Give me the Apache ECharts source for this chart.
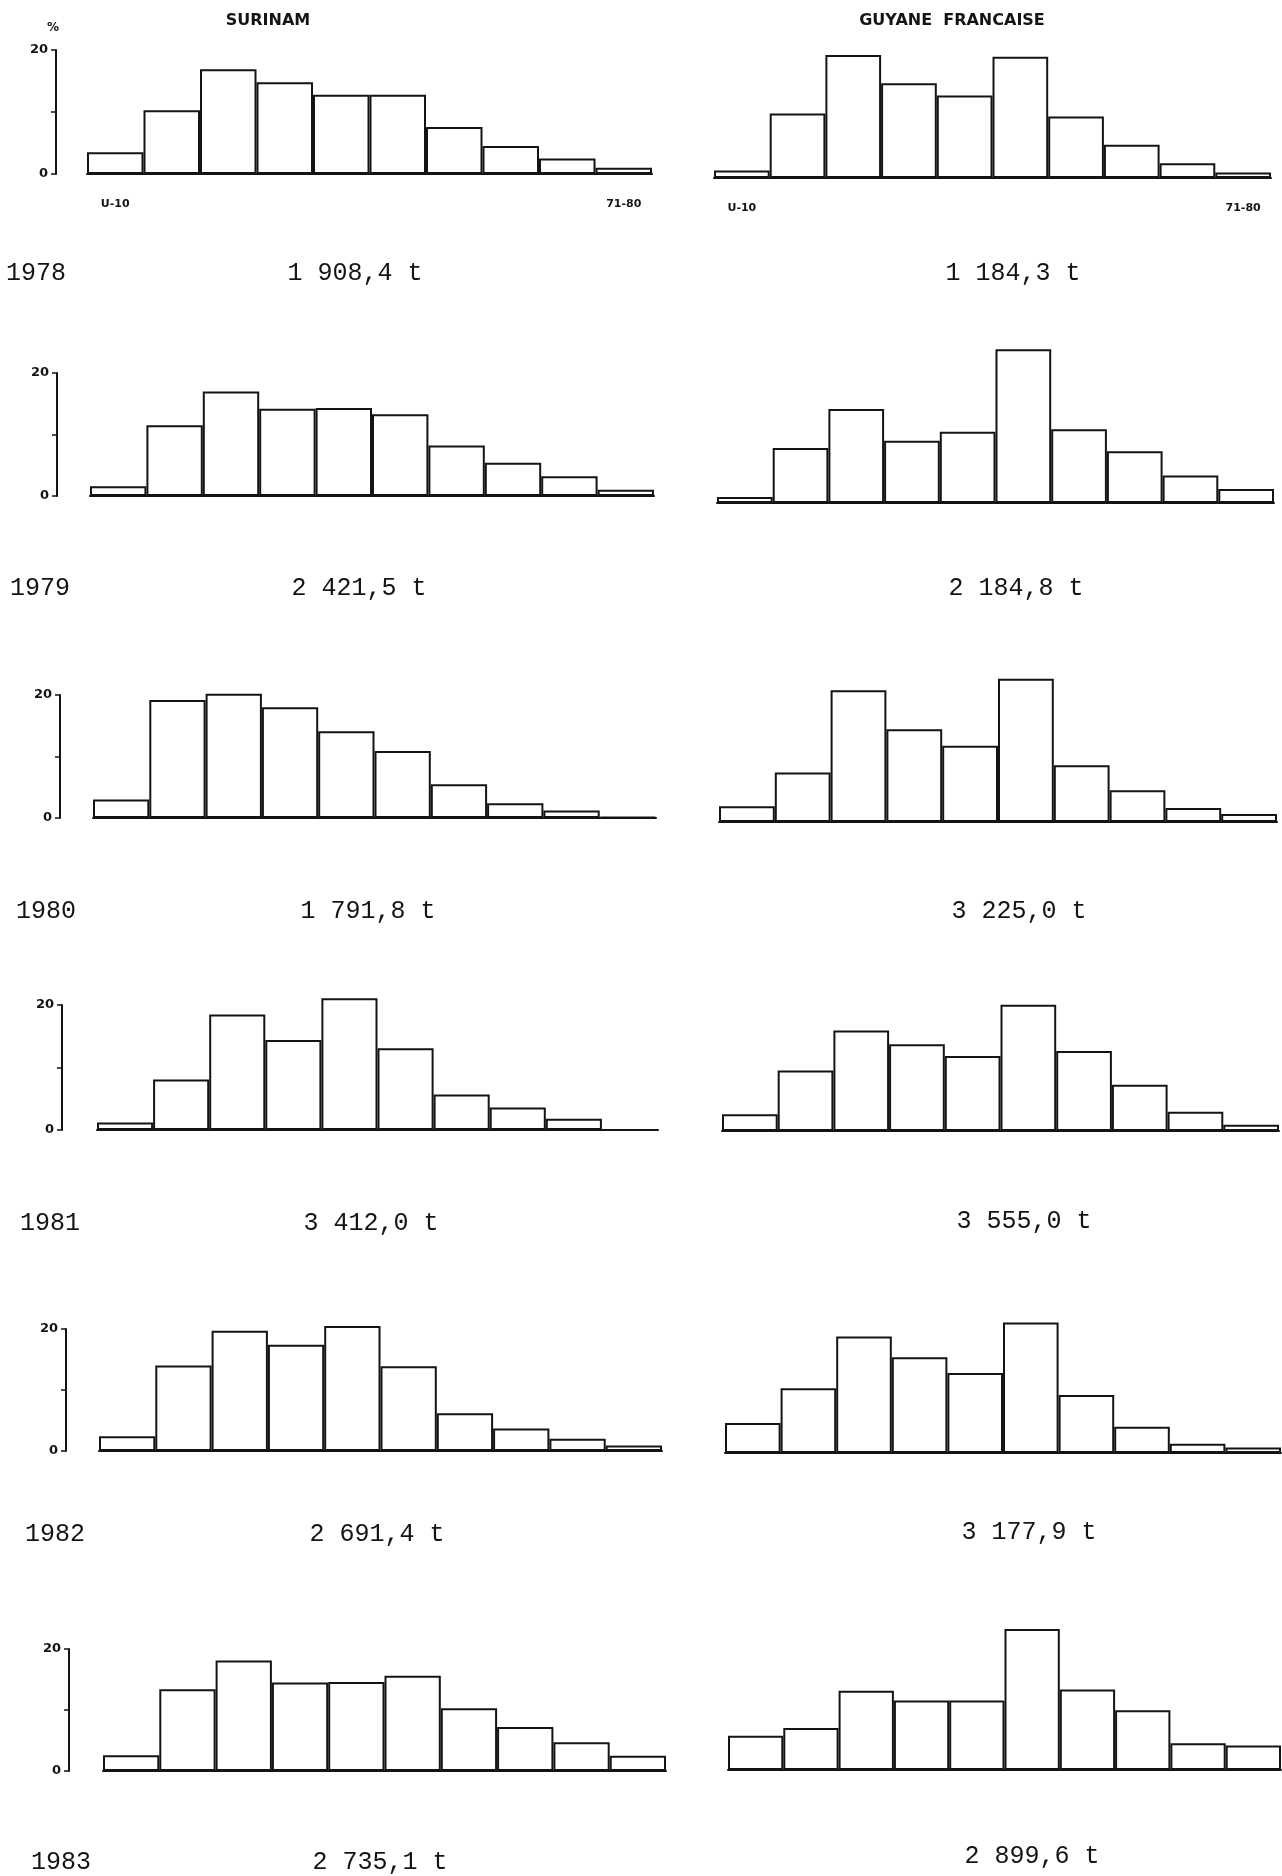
<!DOCTYPE html>
<html lang="fr">
<head>
    <meta charset="utf-8">
    <title>Surinam / Guyane Francaise</title>
    <script src="https://cdn.jsdelivr.net/npm/echarts@6/dist/echarts.min.js"></script>
    <style>
        html, body { margin: 0; padding: 0; background: #fff; }
        #chart { width: 1282px; height: 1876px; }
    </style>
</head>
<body>
<div id="chart"></div>
<script type="text/javascript">
    // size classes (only first and last are printed)
    var categories = ['U-10', '10-15', '16-20', '21-25', '26-30', '31-40', '41-50', '51-60', '61-70', '71-80'];

    // % of catch per class, read from the plates
    var surinam1978 = [3.5, 10.3, 16.9, 14.8, 12.8, 12.8, 7.6, 4.5, 2.5, 1.0];
    var surinam1979 = [1.6, 11.5, 17.0, 14.2, 14.3, 13.3, 8.2, 5.4, 3.2, 1.0];
    var surinam1980 = [3.0, 19.2, 20.2, 18.0, 14.1, 10.9, 5.5, 2.4, 1.2, 0.2];
    var surinam1981 = [1.2, 8.1, 18.5, 14.4, 21.1, 13.1, 5.7, 3.6, 1.8, 0];
    var surinam1982 = [2.4, 14.0, 19.7, 17.4, 20.5, 13.9, 6.2, 3.7, 2.0, 0.9];
    var surinam1983 = [2.6, 13.4, 18.1, 14.5, 14.6, 15.6, 10.3, 7.2, 4.7, 2.5];

    var guyane1978 = [1.2, 10.5, 20.0, 15.4, 13.4, 19.7, 10.0, 5.4, 2.4, 0.9];
    var guyane1979 = [1.0, 9.0, 15.4, 10.2, 11.7, 25.2, 12.1, 8.5, 4.5, 2.3];
    var guyane1980 = [2.6, 8.1, 21.6, 15.2, 12.5, 23.5, 9.3, 5.2, 2.3, 1.3];
    var guyane1981 = [2.7, 9.7, 16.1, 13.9, 12.0, 20.2, 12.8, 7.4, 3.1, 1.0];
    var guyane1982 = [4.9, 10.6, 19.1, 15.7, 13.1, 21.4, 9.5, 4.3, 1.5, 0.9];
    var guyane1983 = [5.6, 6.9, 13.0, 11.4, 11.4, 23.1, 13.2, 9.8, 4.4, 4.0];

    var years = ['1978', '1979', '1980', '1981', '1982', '1983'];
    var surinamTonnage = ['1 908,4 t', '2 421,5 t', '1 791,8 t', '3 412,0 t', '2 691,4 t', '2 735,1 t'];
    var guyaneTonnage = ['1 184,3 t', '2 184,8 t', '3 225,0 t', '3 555,0 t', '3 177,9 t', '2 899,6 t'];

    var surinamData = [surinam1978, surinam1979, surinam1980, surinam1981, surinam1982, surinam1983];
    var guyaneData = [guyane1978, guyane1979, guyane1980, guyane1981, guyane1982, guyane1983];

    // plate geometry (the scan is a bit skewed, so every panel has its own box)
    // [left, right, top(=20%), bottom(=0), y axis x]
    var leftBox = [
        [87, 652, 50, 174, 56],
        [90, 654, 373, 496, 57],
        [93, 656, 695, 818, 60],
        [97, 658, 1005, 1130, 62],
        [99, 662, 1329, 1451, 66],
        [103, 666, 1649, 1771, 69]
    ];
    var rightBox = [
        [714, 1271, 55, 178],
        [717, 1274, 381, 503],
        [719, 1277, 700, 822],
        [722, 1279, 1006, 1131],
        [725, 1281, 1331, 1453],
        [728, 1281, 1648, 1770]
    ];
    // label anchors: [x, y]
    var yearPos = [[6, 273], [10, 588], [16, 911], [20, 1223], [25, 1534], [31, 1862]];
    var surinamTonPos = [[355, 273], [359, 588], [368, 911], [371, 1223], [377, 1534], [380, 1862]];
    var guyaneTonPos = [[1013, 273], [1016, 588], [1019, 911], [1024, 1221], [1029, 1532], [1032, 1856]];

    var ink = '#141414';
    var grids = [], xAxes = [], yAxes = [], series = [], graphics = [];

    function addPanel(box, data, withAxis, withLabels) {
        var i = grids.length;
        grids.push({
            left: box[0], top: box[2],
            width: box[1] - box[0], height: box[3] - box[2],
            containLabel: false
        });
        xAxes.push({
            type: 'category',
            gridIndex: i,
            data: categories,
            axisLine: {lineStyle: {color: ink, width: 2}},
            axisTick: {show: false},
            axisLabel: {
                show: withLabels,
                interval: 0,
                margin: 25,
                color: ink,
                fontSize: 11,
                fontWeight: 'bold',
                fontFamily: 'DejaVu Sans',
                formatter: function (v, idx) {
                    return (idx === 0 || idx === categories.length - 1) ? v : '';
                }
            }
        });
        yAxes.push({
            type: 'value',
            gridIndex: i,
            min: 0,
            max: 20,
            interval: 10,
            show: withAxis,
            offset: withAxis ? box[0] - box[4] : 0,
            axisLine: {show: true, lineStyle: {color: ink, width: 2}},
            axisTick: {show: true, length: 5, lineStyle: {color: ink, width: 1.5}},
            splitLine: {show: false},
            axisLabel: {
                margin: 8,
                color: ink,
                fontSize: 13,
                fontWeight: 'bold',
                fontFamily: 'DejaVu Sans',
                formatter: function (v) {
                    return v === 10 ? '' : v;
                }
            }
        });
        series.push({
            type: 'bar',
            xAxisIndex: i,
            yAxisIndex: i,
            data: data,
            barCategoryGap: 0,
            clip: false,
            silent: true,
            itemStyle: {color: '#fff', borderColor: ink, borderWidth: 2}
        });
    }

    for (var r = 0; r < 6; r++) {
        addPanel(leftBox[r], surinamData[r], true, r === 0);
        addPanel(rightBox[r], guyaneData[r], false, r === 0);
    }

    function label(text, x, y, font, align) {
        graphics.push({
            type: 'text',
            x: x,
            y: y,
            silent: true,
            style: {
                text: text,
                font: font,
                fill: ink,
                textAlign: align,
                textVerticalAlign: 'middle'
            }
        });
    }

    label('SURINAM', 268, 21, 'bold 16px "DejaVu Sans"', 'center');
    label('GUYANE  FRANCAISE', 952, 21, 'bold 16px "DejaVu Sans"', 'center');
    label('%', 53, 28, 'bold 12px "DejaVu Sans"', 'center');

    for (var k = 0; k < 6; k++) {
        label(years[k], yearPos[k][0], yearPos[k][1], '25px "Liberation Mono"', 'left');
        label(surinamTonnage[k], surinamTonPos[k][0], surinamTonPos[k][1], '25px "Liberation Mono"', 'center');
        label(guyaneTonnage[k], guyaneTonPos[k][0], guyaneTonPos[k][1], '25px "Liberation Mono"', 'center');
    }

    var chart = echarts.init(document.getElementById('chart'));
    chart.setOption({
        animation: false,
        backgroundColor: '#fff',
        grid: grids,
        xAxis: xAxes,
        yAxis: yAxes,
        series: series,
        graphic: graphics
    });
</script>
</body>
</html>
